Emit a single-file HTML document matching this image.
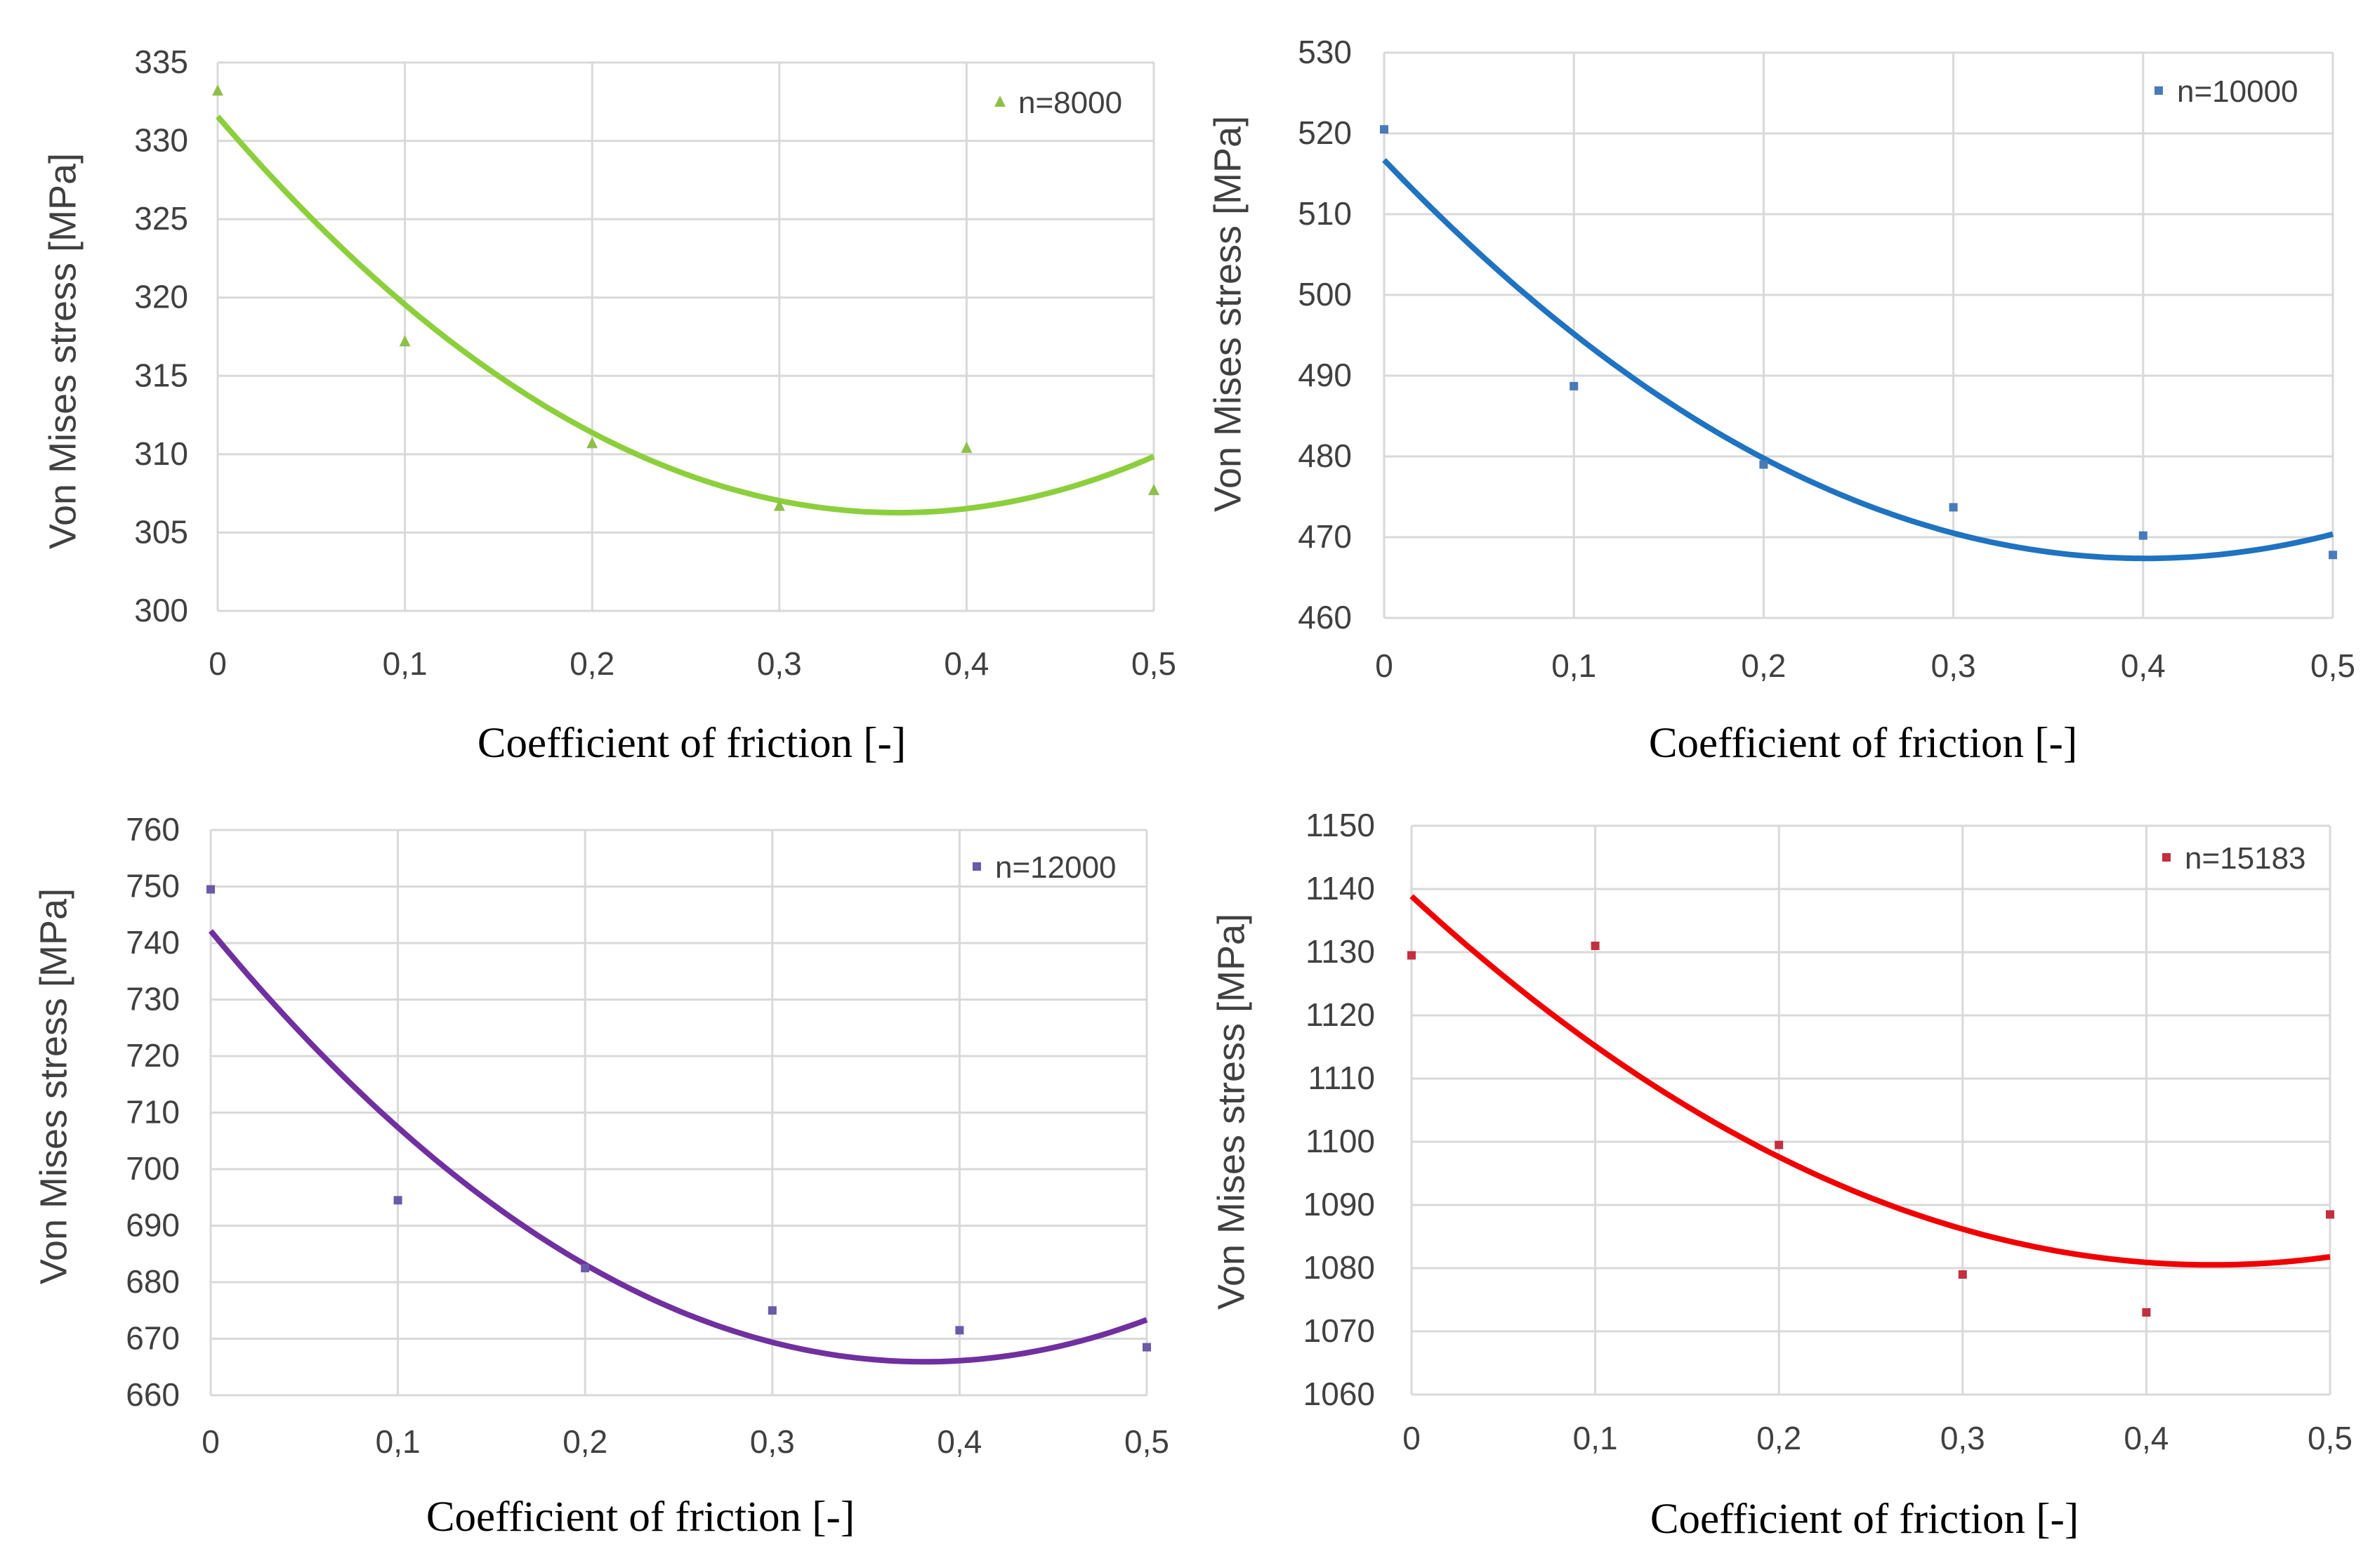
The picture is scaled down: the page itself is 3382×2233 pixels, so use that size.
<!DOCTYPE html>
<html><head><meta charset="utf-8"><style>
html,body{margin:0;padding:0;background:#fff;}
svg{display:block;}
</style></head><body>
<svg id="fig" width="3382" height="2233" viewBox="0 0 3382 2233" xmlns="http://www.w3.org/2000/svg"></svg>
<script>
const xTicks = [0, 0.1, 0.2, 0.3, 0.4, 0.5];
const xTickLabels = ["0", "0,1", "0,2", "0,3", "0,4", "0,5"];
const values8000 = [333.2, 317.2, 310.7, 306.7, 310.4, 307.7];
const values10000 = [520.5, 488.7, 479.0, 473.7, 470.2, 467.8];
const values12000 = [749.5, 694.5, 682.5, 675.0, 671.5, 668.5];
const values15183 = [1129.5, 1131.0, 1099.5, 1079.0, 1073.0, 1088.5];
const yTicks8000 = [300, 305, 310, 315, 320, 325, 330, 335];
const yTicks10000 = [460, 470, 480, 490, 500, 510, 520, 530];
const yTicks12000 = [660, 670, 680, 690, 700, 710, 720, 730, 740, 750, 760];
const yTicks15183 = [1060, 1070, 1080, 1090, 1100, 1110, 1120, 1130, 1140, 1150];

const NS = "http://www.w3.org/2000/svg";
const svg = document.getElementById('fig');
function mk(tag, attrs, parent){
  const e = document.createElementNS(NS, tag);
  for (const k in attrs) e.setAttribute(k, attrs[k]);
  (parent||svg).appendChild(e);
  return e;
}
function fitQuad(xs, ys){
  let n=xs.length,S=[0,0,0,0,0],T=[0,0,0];
  for(let i=0;i<n;i++){let p=1;for(let k=0;k<5;k++){S[k]+=p;if(k<3)T[k]+=p*ys[i];p*=xs[i];}}
  const A=[[S[0],S[1],S[2],T[0]],[S[1],S[2],S[3],T[1]],[S[2],S[3],S[4],T[2]]];
  for(let i=0;i<3;i++){for(let j=i+1;j<3;j++){const f=A[j][i]/A[i][i];for(let k=i;k<4;k++)A[j][k]-=f*A[i][k];}}
  const c=[0,0,0];
  for(let i=2;i>=0;i--){let s=A[i][3];for(let k=i+1;k<3;k++)s-=A[i][k]*c[k];c[i]=s/A[i][i];}
  return c;
}
const charts = [
  {id:'8000', vals:values8000, yt:yTicks8000, L:310, R:1643, T:89, B:870, color:'#8ccf3c', marker:'tri', mcol:'#8fbf4a',
   xlabY:945, titleY:1078, titleX:985, ytX:93, ytY:500, tickR:268, legX:1424, legY:145},
  {id:'10000', vals:values10000, yt:yTicks10000, L:1971, R:3322, T:75, B:880, color:'#1f73c0', marker:'sq', mcol:'#4a7ab8',
   xlabY:948, titleY:1078, titleX:2653, ytX:1752, ytY:447, tickR:1925, legX:3074, legY:129},
  {id:'12000', vals:values12000, yt:yTicks12000, L:300, R:1633, T:1182, B:1987, color:'#7030a0', marker:'sq', mcol:'#6a5aa8',
   xlabY:2053, titleY:2180, titleX:912, ytX:80, ytY:1547, tickR:256, legX:1391, legY:1234},
  {id:'15183', vals:values15183, yt:yTicks15183, L:2010, R:3318, T:1176, B:1986, color:'#f00000', marker:'sq', mcol:'#c03040',
   xlabY:2048, titleY:2183, titleX:2655, ytX:1757, ytY:1583, tickR:1958, legX:3085, legY:1221}
];
charts.forEach(c=>{
  const g = mk('g',{});
  
  
  const ymin=c.yt[0], ymax=c.yt[c.yt.length-1];
  const xS = v => c.L + (v - xTicks[0])/(xTicks[xTicks.length-1]-xTicks[0])*(c.R-c.L);
  const yS = v => c.B - (v - ymin)/(ymax-ymin)*(c.B-c.T);
  c.yt.forEach(t=>{
    const l=mk('line',{x1:c.L,x2:c.R,y1:yS(t),y2:yS(t),stroke:'#d9d9d9','stroke-width':3},g);
    
    
    const tx=mk('text',{x:c.tickR,y:yS(t)+15,'text-anchor':'end','font-family':'Liberation Sans Narrow, Liberation Sans, sans-serif','font-size':46,fill:'#404040'},g);
    tx.textContent=t;
    
    
  });
  xTicks.forEach((t,i)=>{
    const l=mk('line',{x1:xS(t),x2:xS(t),y1:c.T,y2:c.B,stroke:'#d9d9d9','stroke-width':3},g);
    
    
    const tx=mk('text',{x:xS(t),y:c.xlabY+16,'text-anchor':'middle','font-family':'Liberation Sans Narrow, Liberation Sans, sans-serif','font-size':46,fill:'#404040'},g);
    tx.textContent=xTickLabels[i];
    
    
  });
  const co = fitQuad(xTicks, c.vals);
  let d='';
  for(let i=0;i<=100;i++){const x=xTicks[0]+(xTicks[xTicks.length-1]-xTicks[0])*i/100;const y=co[0]+co[1]*x+co[2]*x*x;d+=(i?'L':'M')+xS(x).toFixed(1)+' '+yS(y).toFixed(1);}
  const p=mk('path',{d:d,fill:'none',stroke:c.color,'stroke-width':8},g);
  
  
  function marker(x,y){
    let m;
    if(c.marker==='tri') m=mk('path',{d:`M${x} ${y-9}L${x+8} ${y+7}L${x-8} ${y+7}Z`,fill:c.mcol},g);
    else m=mk('rect',{x:x-6,y:y-6,width:12,height:12,fill:c.mcol},g);
    return m;
  }
  c.vals.forEach((v,i)=>{
    const m=marker(xS(xTicks[i]),yS(v));
    
    
  });
  const lm=marker(c.legX,c.legY);
  
  
  const lt=mk('text',{x:c.legX+26,y:c.legY+16,'font-family':'Liberation Sans, sans-serif','font-size':44,fill:'#404040'},g);
  lt.textContent='n='+c.id;
  
  
  const xt=mk('text',{x:c.titleX,y:c.titleY,'text-anchor':'middle','font-family':'Liberation Serif, serif','font-size':61,fill:'#000'},g);
  xt.textContent='Coefficient of friction [-]';
  
  
  const yt=mk('text',{x:c.ytX,y:c.ytY,'text-anchor':'middle','font-family':'Liberation Sans, sans-serif','font-size':54,fill:'#404040',transform:`rotate(-90 ${c.ytX} ${c.ytY})`,'dominant-baseline':'middle'},g);
  yt.textContent='Von Mises stress [MPa]';
  
  
});
</script>
</body></html>
